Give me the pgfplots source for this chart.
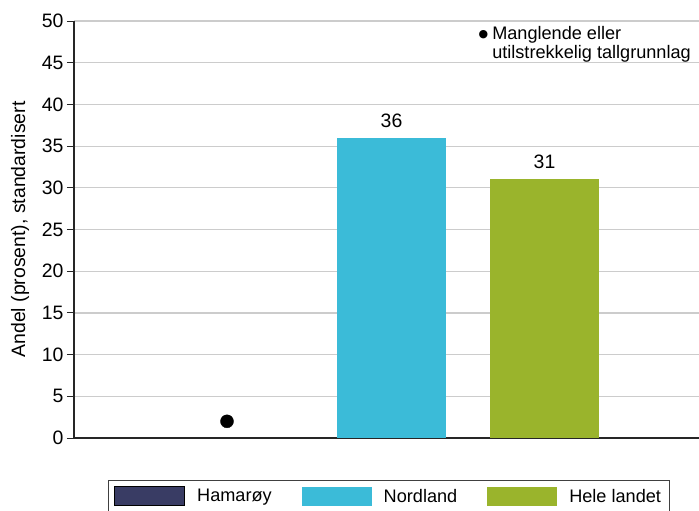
\documentclass[border=0pt]{standalone}
\usepackage{pgfplots}
\pgfplotsset{compat=1.18}
\usepackage{fontspec}
\setmainfont{Liberation Sans}
\newfontfamily\djv{DejaVu Sans}
\definecolor{hamaroy}{HTML}{393C64}
\definecolor{nordland}{HTML}{3BBBD8}
\definecolor{landet}{HTML}{9AB42C}
\newcommand{\cf}{\fontsize{19.5}{22}\selectfont}
\newcommand{\lf}{\fontsize{18.2}{19}\selectfont}
\begin{document}
\begin{tikzpicture}
\begin{axis}[
  anchor=south west, at={(74bp,73bp)},
  scale only axis, width=625bp, height=417bp,
  xmin=74, xmax=699, ymin=0, ymax=50,
  ytick={0,5,...,50}, xtick=\empty,
  axis x line*=bottom, axis y line*=left,
  axis line style={line width=1.1bp, black!85},
  tick align=outside, major tick length=7bp,
  tick style={line width=1bp, black!85},
  ymajorgrids, grid style={line width=1.2bp, black!20},
  /pgf/number format/assume math mode=true,
  tick label style={font=\cf},
  ylabel={Andel (prosent), standardisert},
  ylabel style={font=\cf, at={(axis description cs:-0.0864,0.5)}, anchor=center},
  legend columns=3,
  legend style={font=\lf, at={(axis description cs:0.0544,-0.1007)}, anchor=north west,
    draw=black!75, line width=0.8bp, inner xsep=6bp, inner ysep=6bp,
    /tikz/every odd column/.append style={column sep=10bp},
    /tikz/every even column/.append style={column sep=28bp}},
  legend cell align=left,
  legend image code/.code={\fill[#1] (0bp,-9.5bp) rectangle (70bp,9.5bp);},
  clip=false,
]
\addlegendimage{fill=hamaroy}
\addlegendentry{Hamarøy}
\addplot[ybar, bar shift=0pt, bar width=109, fill=nordland, draw=none,
  nodes near coords, every node near coord/.append style={font=\cf, black, yshift=7bp}]
  coordinates {(391.5,36)};
\addlegendentry{Nordland}
\addplot[ybar, bar shift=0pt, bar width=109, fill=landet, draw=none,
  nodes near coords, every node near coord/.append style={font=\cf, black, yshift=7bp}]
  coordinates {(544.5,31)};
\addlegendentry{Hele landet\hspace{5bp}}
\addplot[only marks, mark=*, mark size=6.5bp, black, forget plot] coordinates {(227,2)};
\node[anchor=north east, font=\lf, inner sep=0pt] at (axis cs:691,49.4)
  {\begin{tabular}{@{}l@{\hspace{4bp}}l@{}}\raisebox{1.5bp}{\djv\fontsize{11}{11}\selectfont ●} & Manglende eller\\ & utilstrekkelig tallgrunnlag\end{tabular}};
\end{axis}
\pgfresetboundingbox
\path[use as bounding box] (0,0) rectangle (699bp,511bp);
\end{tikzpicture}
\end{document}
